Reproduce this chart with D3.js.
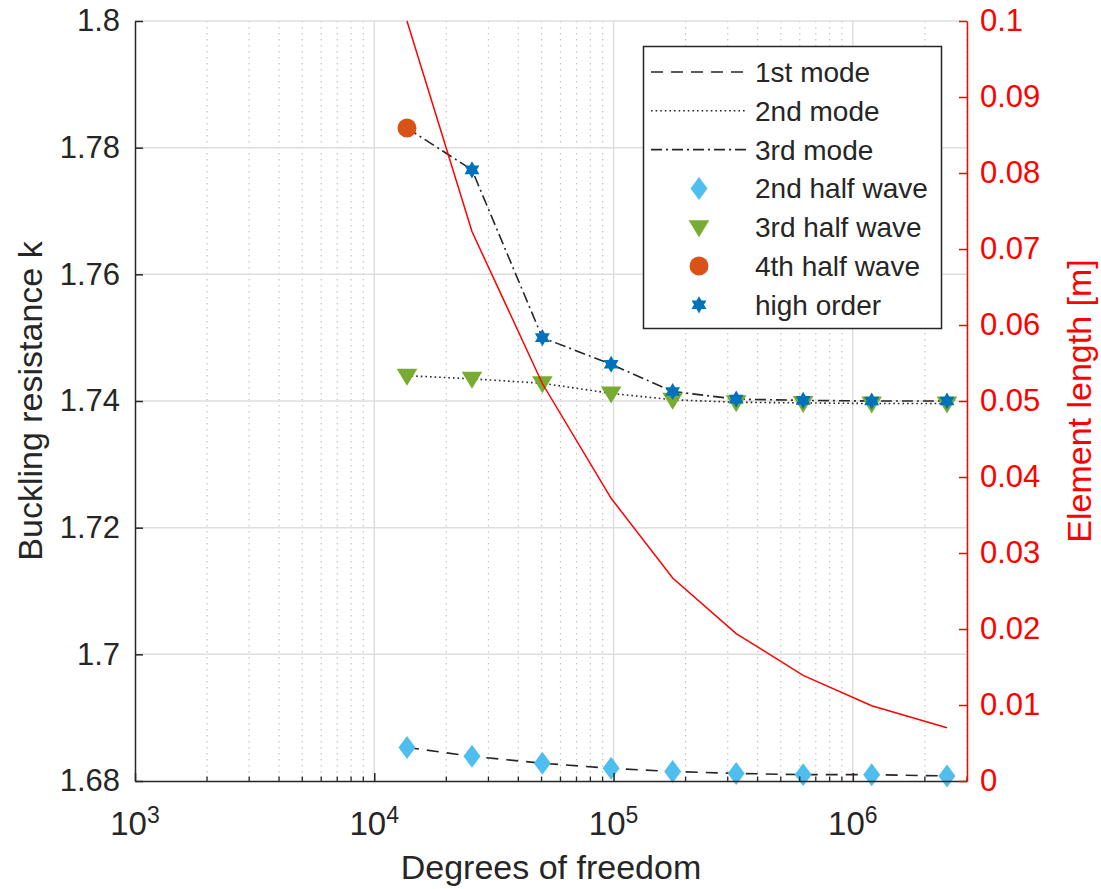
<!DOCTYPE html>
<html>
<head>
<meta charset="utf-8">
<script src="https://cdn.jsdelivr.net/npm/d3@7/dist/d3.min.js"></script>
<style>
  html, body { margin: 0; padding: 0; background: #fff; }
  svg { display: block; font-family: "Liberation Sans", Arial, Helvetica, sans-serif; }
</style>
</head>
<body>
<svg id="chart" width="1101" height="889"></svg>
<script>
// Degrees of freedom of each mesh
const dof = [13700, 25600, 50400, 97700, 176600, 325500, 620000, 1199000, 2474000];

// Buckling resistance k per mode
const mode1 = [1.6853, 1.6839, 1.6828, 1.6820, 1.6815, 1.6812, 1.6810, 1.6810, 1.6808];
const mode2 = [1.7440, 1.7435, 1.7428, 1.7412, 1.7402, 1.7398, 1.7397, 1.7396, 1.7396];
const mode3 = [1.7831, 1.7765, 1.7500, 1.7458, 1.7415, 1.7403, 1.7401, 1.7400, 1.7400];

// Shape of the buckling mode at each point
const mode1Shape = Array(9).fill("2nd half wave");
const mode2Shape = Array(9).fill("3rd half wave");
const mode3Shape = ["4th half wave", "high order", "high order", "high order", "high order",
                    "high order", "high order", "high order", "high order"];

// Element length [m]
const elemLen = [0.1000, 0.0723, 0.0523, 0.0372, 0.0267, 0.0194, 0.0139, 0.0099, 0.0070];

// Axis ticks
const xMajorTicks = [1e3, 1e4, 1e5, 1e6];
const yLeftTicks = [1.68, 1.70, 1.72, 1.74, 1.76, 1.78, 1.80];
const yRightTicks = [0, 0.01, 0.02, 0.03, 0.04, 0.05, 0.06, 0.07, 0.08, 0.09, 0.1];

// Legend entries
const lineLegend = ["1st mode", "2nd mode", "3rd mode"];
const markerLegend = ["2nd half wave", "3rd half wave", "4th half wave", "high order"];

const INK = "#262626";
const RED = "#ff0000";
const markerColor = {
  "2nd half wave": "#4DBEEE",
  "3rd half wave": "#77AC30",
  "4th half wave": "#D95319",
  "high order": "#0072BD"
};
const dashes = { "1st mode": "12,8", "2nd mode": "1.6,3", "3rd mode": "11,4,2,4" };

const L = 135, R = 967, T = 21, B = 781;
const svg = d3.select("#chart");

const x = d3.scaleLog().domain([1e3, 3e6]).range([L, R]);
const yL = d3.scaleLinear().domain([1.68, 1.8]).range([B, T]);
const yR = d3.scaleLinear().domain([0, 0.1]).range([B, T]);

// marker shapes
function markerPath(kind) {
  if (kind === "2nd half wave") return "M0,-11.5L8.5,0L0,11.5L-8.5,0Z";
  if (kind === "3rd half wave") return "M-10.3,-7L10.3,-7L0,10Z";
  if (kind === "4th half wave") return d3.symbol(d3.symbolCircle, Math.PI * 9.5 * 9.5)();
  // hexagram
  const Ro = 8.6, Ri = Ro / Math.sqrt(3);
  const pts = d3.range(12).map(i => {
    const a = -Math.PI / 2 + i * Math.PI / 6;
    const r = i % 2 === 0 ? Ro : Ri;
    return [r * Math.cos(a), r * Math.sin(a)];
  });
  return "M" + pts.map(p => p.join(",")).join("L") + "Z";
}

// ---- grid ----
const grid = svg.append("g");
const minorTicks = [];
[1e3, 1e4, 1e5, 1e6].forEach(d => {
  for (let k = 2; k <= 9; k++) if (d * k <= 3e6) minorTicks.push(d * k);
});
grid.selectAll(".minor").data(minorTicks).join("line")
  .attr("x1", d => x(d)).attr("x2", d => x(d)).attr("y1", T).attr("y2", B)
  .attr("stroke", "#c4c4c4").attr("stroke-width", 1.2).attr("stroke-dasharray", "1.5,4.5");
grid.selectAll(".majx").data(xMajorTicks.slice(1)).join("line")
  .attr("x1", d => x(d)).attr("x2", d => x(d)).attr("y1", T).attr("y2", B)
  .attr("stroke", "#dedede").attr("stroke-width", 1.5);
grid.selectAll(".majy").data(yLeftTicks.slice(1)).join("line")
  .attr("x1", L).attr("x2", R).attr("y1", d => yL(d)).attr("y2", d => yL(d))
  .attr("stroke", "#dedede").attr("stroke-width", 1.5);

// ---- mode lines ----
const plot = svg.append("g");
const modes = [
  { name: "1st mode", vals: mode1, shapes: mode1Shape },
  { name: "2nd mode", vals: mode2, shapes: mode2Shape },
  { name: "3rd mode", vals: mode3, shapes: mode3Shape }
];
const lineL = d3.line().x(d => x(d[0])).y(d => yL(d[1]));
modes.forEach(m => {
  plot.append("path")
    .attr("d", lineL(dof.map((d, i) => [d, m.vals[i]])))
    .attr("fill", "none").attr("stroke", INK).attr("stroke-width", 1.6)
    .attr("stroke-dasharray", dashes[m.name]);
});
modes.forEach(m => {
  plot.selectAll(null).data(dof.map((d, i) => ({ d, v: m.vals[i], s: m.shapes[i] }))).join("path")
    .attr("transform", p => `translate(${x(p.d)},${yL(p.v)})`)
    .attr("d", p => markerPath(p.s))
    .attr("fill", p => markerColor[p.s]);
});

// ---- element length (right axis) ----
svg.append("clipPath").attr("id", "clip").append("rect")
  .attr("x", L).attr("y", T - 1).attr("width", R - L).attr("height", B - T + 1);
const lineR = d3.line().x(d => x(d[0])).y(d => yR(d[1]));
svg.append("path")
  .attr("clip-path", "url(#clip)")
  .attr("d", lineR(dof.map((d, i) => [d, elemLen[i]])))
  .attr("fill", "none").attr("stroke", RED).attr("stroke-width", 1.5);

// ---- axes ----
const axX = svg.append("g").attr("transform", `translate(0,${B})`)
  .call(d3.axisBottom(x).tickValues(xMajorTicks).tickSizeInner(-8).tickSizeOuter(0).tickFormat(""));
axX.append("g").selectAll("line").data(minorTicks).join("line")
  .attr("x1", d => x(d)).attr("x2", d => x(d)).attr("y1", 0).attr("y2", -4.5)
  .attr("stroke", INK).attr("stroke-width", 1.3);
axX.selectAll(".domain, .tick line").attr("stroke", INK).attr("stroke-width", 1.5);
const xl = axX.selectAll(".xlab").data(xMajorTicks).join("text")
  .attr("x", d => x(d)).attr("y", 54).attr("text-anchor", "middle").attr("fill", INK);
xl.append("tspan").attr("font-size", 33).text("10");
xl.append("tspan").attr("font-size", 23).attr("dy", -12).text(d => Math.round(Math.log10(d)));

const axL = svg.append("g").attr("transform", `translate(${L},0)`)
  .call(d3.axisLeft(yL).tickValues(yLeftTicks).tickSizeInner(-8).tickSizeOuter(0).tickPadding(15)
    .tickFormat(d => d3.format("")(+d.toFixed(2))));
axL.selectAll(".domain, .tick line").attr("stroke", INK).attr("stroke-width", 1.5);
axL.selectAll("text").attr("font-size", 31).attr("fill", INK).attr("font-family", null);

const axR = svg.append("g").attr("transform", `translate(${R},0)`)
  .call(d3.axisRight(yR).tickValues(yRightTicks).tickSizeInner(-8).tickSizeOuter(0).tickPadding(13)
    .tickFormat(d => d3.format("")(+d.toFixed(2))));
axR.selectAll(".domain, .tick line").attr("stroke", RED).attr("stroke-width", 1.5);
axR.selectAll("text").attr("font-size", 31).attr("fill", RED).attr("font-family", null);

// ---- axis titles ----
svg.append("text").attr("x", (L + R) / 2).attr("y", 879).attr("text-anchor", "middle")
  .attr("font-size", 34).attr("fill", INK).text("Degrees of freedom");
svg.append("text").attr("transform", `translate(42,${(T + B) / 2}) rotate(-90)`)
  .attr("text-anchor", "middle").attr("font-size", 34).attr("fill", INK).text("Buckling resistance k");
svg.append("text").attr("transform", `translate(1091,${(T + B) / 2}) rotate(-90)`)
  .attr("text-anchor", "middle").attr("font-size", 34).attr("fill", RED).text("Element length [m]");

// ---- legend ----
const lg = svg.append("g");
lg.append("rect").attr("x", 643.5).attr("y", 46.5).attr("width", 298).attr("height", 282)
  .attr("fill", "#fff").attr("stroke", INK).attr("stroke-width", 1.5);
const rowY = i => 72 + i * 38.8;
lineLegend.forEach((name, i) => {
  lg.append("line").attr("x1", 651).attr("x2", 747).attr("y1", rowY(i)).attr("y2", rowY(i))
    .attr("stroke", INK).attr("stroke-width", 1.6).attr("stroke-dasharray", dashes[name]);
  lg.append("text").attr("x", 755).attr("y", rowY(i) + 10).attr("font-size", 28)
    .attr("fill", INK).text(name);
});
markerLegend.forEach((name, j) => {
  const i = j + 3;
  lg.append("path").attr("transform", `translate(699,${rowY(i)})`)
    .attr("d", markerPath(name)).attr("fill", markerColor[name]);
  lg.append("text").attr("x", 755).attr("y", rowY(i) + 10).attr("font-size", 28)
    .attr("fill", INK).text(name);
});
</script>
</body>
</html>
